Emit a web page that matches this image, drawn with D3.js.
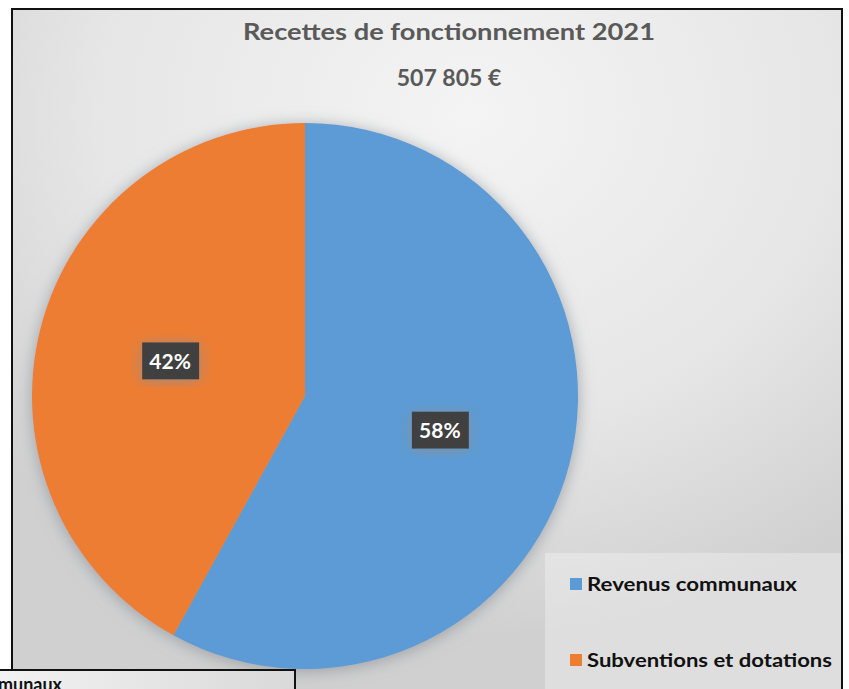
<!DOCTYPE html>
<html><head><meta charset="utf-8">
<script src="https://cdn.jsdelivr.net/npm/d3@7"></script>
<style>html,body{margin:0;padding:0;background:#fff;overflow:hidden}</style>
</head><body>
<svg id="c" width="849" height="689"></svg>
<script>
const titleLines = ["Recettes de fonctionnement 2021", "507 805 €"];
const categories = ["Revenus communaux", "Subventions et dotations"];
const values = [58, 42];
const colors = ["#5b9bd5", "#ed7d31"];

const svg = d3.select("#c");
const defs = svg.append("defs");
const bg = defs.append("radialGradient").attr("id","bg").attr("cx","0.55").attr("cy","0.15").attr("r","0.75");
bg.append("stop").attr("offset","0").attr("stop-color","#f4f4f4");
bg.append("stop").attr("offset","0.6").attr("stop-color","#e6e6e6");
bg.append("stop").attr("offset","1").attr("stop-color","#d0d0d0");
const sh = defs.append("filter").attr("id","sh").attr("x","-20%").attr("y","-20%").attr("width","140%").attr("height","140%");
sh.append("feDropShadow").attr("dx",0).attr("dy",2).attr("stdDeviation",8).attr("flood-color","#8a8f96").attr("flood-opacity",0.75);
const lb = defs.append("linearGradient").attr("id","lb");
lb.append("stop").attr("offset","0").attr("stop-color","#f2f2f2");
lb.append("stop").attr("offset","1").attr("stop-color","#d9d9d9");

// frame
svg.append("rect").attr("x",12).attr("y",9).attr("width",830).attr("height",700)
  .attr("fill","url(#bg)").attr("stroke","#111").attr("stroke-width",2);

// legend area background
svg.append("rect").attr("x",545).attr("y",553).attr("width",296).attr("height",140)
  .attr("fill","#ffffff").attr("opacity",0.3);

// pie
const cx = 305, cy = 396, r = 273;
const pie = d3.pie().sort(null).value(d => d)(values);
const arc = d3.arc().innerRadius(0).outerRadius(r);
const g = svg.append("g").attr("transform",`translate(${cx},${cy})`);
g.append("g").attr("filter","url(#sh)").selectAll("path").data(pie).join("path")
  .attr("d",arc).attr("fill",(d,i)=>colors[i]);

// labels
const lab = d3.arc().innerRadius(r*0.51).outerRadius(r*0.51);
const lg = g.selectAll("g.lab").data(pie).join("g").attr("class","lab")
  .attr("transform",d=>`translate(${lab.centroid(d)})`);
lg.append("rect").attr("x",-28).attr("y",-19).attr("width",57).attr("height",37).attr("fill","#404040")
  .attr("filter","url(#sh)");
lg.append("text").attr("text-anchor","middle").attr("dy","0.36em")
  .attr("font-family","Lato, 'Open Sans', sans-serif").attr("font-weight","bold").attr("font-size",21)
  .attr("fill","#fff").text(d => Math.round(d.data) + "%");

// title
const tt = svg.append("g");
tt.append("text").attr("x",449).attr("y",40).attr("text-anchor","middle")
  .attr("font-family","Lato, sans-serif").attr("font-weight","bold").attr("font-size",23)
  .attr("fill","#595959").attr("textLength",412).attr("lengthAdjust","spacingAndGlyphs").text(titleLines[0]);
tt.append("text").attr("x",449).attr("y",86).attr("text-anchor","middle")
  .attr("font-family","Lato, sans-serif").attr("font-weight","bold").attr("font-size",23)
  .attr("fill","#595959").text(titleLines[1]);

// legend
const legY = [591, 667];
const legW = [210, 245];
const leg = svg.selectAll("g.leg").data(categories).join("g").attr("class","leg");
leg.append("rect").attr("x",570).attr("y",(d,i)=>legY[i]-13).attr("width",12).attr("height",12)
  .attr("fill",(d,i)=>colors[i]);
leg.append("text").attr("x",587).attr("y",(d,i)=>legY[i])
  .attr("font-family","Lato, sans-serif").attr("font-weight","bold").attr("font-size",18)
  .attr("fill","#111").attr("textLength",(d,i)=>legW[i]).attr("lengthAdjust","spacingAndGlyphs").text(d=>d);

// overlapping box bottom-left
svg.append("rect").attr("x",-2).attr("y",670).attr("width",297).attr("height",40)
  .attr("fill","url(#lb)").attr("stroke","#111").attr("stroke-width",2);
svg.append("text").attr("x",62).attr("y",691).attr("text-anchor","end")
  .attr("font-family","Lato, sans-serif").attr("font-weight","bold").attr("font-size",18)
  .attr("fill","#111").text(categories[0]);
</script>
</body></html>
